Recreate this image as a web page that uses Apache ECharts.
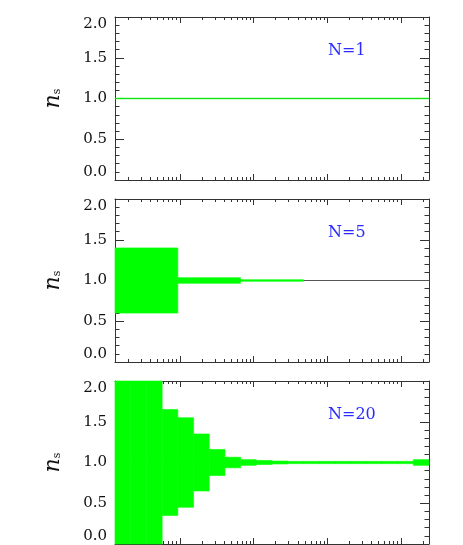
<!DOCTYPE html>
<html>
<head>
<meta charset="utf-8">
<script src="https://cdn.jsdelivr.net/npm/echarts@6/dist/echarts.min.js"></script>
<style>
  html, body { margin: 0; padding: 0; background: #fff; }
  #main { width: 463px; height: 545px; }
</style>
</head>
<body>
<div id="main"></div>
<script>
// x range of every panel (arbitrary units, log axis without labels)
var xMin = 0.132, xMax = 2410;
var majorX = [1, 10, 100, 1000];
var minorMant = [2, 3, 4, 5, 6, 7, 8, 9];
var decades = [0.1, 1, 10, 100, 1000];

// panel labels
var panelLabels = ['N=1', 'N=5', 'N=20'];

// bin edges and n_s band (lower / upper) per panel
var edges1 = [0.132, 2410];
var lower1 = [0.996];
var upper1 = [1.004];

var edges5 = [0.132, 0.94, 6.68, 47.6, 339, 2410];
var lower5 = [0.60, 0.965, 0.99, 1.0, 1.0];
var upper5 = [1.40, 1.035, 1.01, 1.0, 1.0];

var edges20 = [0.132, 0.216, 0.352, 0.576, 0.94, 1.54, 2.51, 4.10, 6.70, 10.9,
               17.9, 29.2, 47.6, 77.8, 127, 208, 339, 553, 904, 1476, 2410];
var lower20 = [-2, -2, -2, 0.35, 0.45, 0.65, 0.84, 0.935, 0.965, 0.975,
               0.982, 0.986, 0.986, 0.986, 0.986, 0.986, 0.986, 0.986, 0.986, 0.965];
var upper20 = [4, 4, 4, 1.65, 1.55, 1.35, 1.16, 1.065, 1.035, 1.025,
               1.018, 1.014, 1.014, 1.014, 1.014, 1.014, 1.014, 1.014, 1.014, 1.035];

var panels = [
  { edges: edges1, lower: lower1, upper: upper1 },
  { edges: edges5, lower: lower5, upper: upper5 },
  { edges: edges20, lower: lower20, upper: upper20 }
];
var gridTops = [17, 199, 381];
var gridHeight = 163;

var lg = Math.log10;
var lxMin = lg(xMin), lxMax = lg(xMax);
var majorLog = majorX.map(lg);
var minorLog = [];
decades.forEach(function (d) {
  minorMant.forEach(function (m) {
    var v = lg(m * d);
    if (v > lxMin && v < lxMax) minorLog.push(v);
  });
});

var frame = '#333';
var serif = 'DejaVu Serif';

function xAx(g, pos, ticks, len, line) {
  return {
    gridIndex: g, type: 'value', position: pos, min: lxMin, max: lxMax,
    axisLine: { show: line, onZero: false, lineStyle: { color: frame, width: 1 } },
    axisTick: { show: true, inside: true, length: len, customValues: ticks,
                lineStyle: { color: frame, width: 1 } },
    axisLabel: { show: false },
    splitLine: { show: false }
  };
}

function yAx(g, pos, labels) {
  return {
    gridIndex: g, type: 'value', position: pos, min: 0, max: 2, interval: 0.5,
    name: labels ? '{n|n}{s|s}' : '',
    nameLocation: 'middle', nameRotate: 90, nameGap: 50,
    nameTextStyle: {
      rich: {
        n: { fontFamily: serif, fontStyle: 'italic', fontSize: 22, color: '#111', lineHeight: 24 },
        s: { fontFamily: serif, fontSize: 11, color: '#111', lineHeight: 14, padding: [9, 0, 0, 0] }
      }
    },
    axisLine: { show: true, onZero: false, lineStyle: { color: frame, width: 1 } },
    axisTick: { show: true, inside: true, length: 9, lineStyle: { color: frame, width: 1 } },
    minorTick: { show: true, splitNumber: 5, length: 4.5, lineStyle: { color: frame, width: 1 } },
    axisLabel: {
      show: labels, margin: 8, fontFamily: serif, fontSize: 15, color: '#111',
      verticalAlignMaxLabel: 'top', verticalAlignMinLabel: 'bottom',
      formatter: function (v) { return v.toFixed(1); }
    },
    splitLine: { show: false },
    minorSplitLine: { show: false }
  };
}

function renderBand(params, api) {
  var p0 = api.coord([api.value(0), api.value(3)]);
  var p1 = api.coord([api.value(1), api.value(2)]);
  if (p1[1] - p0[1] <= 0) return null;
  var cs = params.coordSys;
  var shape = echarts.graphic.clipRectByRect(
    { x: p0[0], y: p0[1], width: p1[0] - p0[0], height: p1[1] - p0[1] },
    { x: cs.x, y: cs.y, width: cs.width, height: cs.height });
  return shape && {
    type: 'rect', shape: shape,
    style: { fill: '#00ff00', stroke: '#00ff00', lineWidth: 0.6 }
  };
}

var grid = [], xAxis = [], yAxis = [], series = [], title = [];
panels.forEach(function (p, g) {
  grid.push({ left: 115, right: 34, top: gridTops[g], height: gridHeight });
  xAxis.push(xAx(g, 'bottom', majorLog, 6, true));
  xAxis.push(xAx(g, 'bottom', minorLog, 3, false));
  xAxis.push(xAx(g, 'top', majorLog, 6, true));
  xAxis.push(xAx(g, 'top', minorLog, 3, false));
  yAxis.push(yAx(g, 'left', true));
  yAxis.push(yAx(g, 'right', false));

  var bands = p.lower.map(function (lo, i) {
    return [lg(p.edges[i]), lg(p.edges[i + 1]), lo, p.upper[i]];
  });
  series.push({
    type: 'line', xAxisIndex: g * 4, yAxisIndex: g * 2, z: 1, silent: true,
    symbol: 'none', data: [[lxMin, 1], [lxMax, 1]],
    lineStyle: { color: '#555', width: 1 }
  });
  series.push({
    type: 'custom', xAxisIndex: g * 4, yAxisIndex: g * 2, z: 2, silent: true,
    renderItem: renderBand, encode: { x: [0, 1], y: [2, 3] }, data: bands
  });
  title.push({
    text: panelLabels[g], left: 328, top: gridTops[g] + 26, padding: 0,
    textStyle: { fontFamily: serif, fontSize: 16, fontWeight: 'normal', color: '#2b2bff' }
  });
});

var chart = echarts.init(document.getElementById('main'));
chart.setOption({
  animation: false,
  backgroundColor: '#fff',
  title: title,
  grid: grid,
  xAxis: xAxis,
  yAxis: yAxis,
  series: series
});
</script>
</body>
</html>
